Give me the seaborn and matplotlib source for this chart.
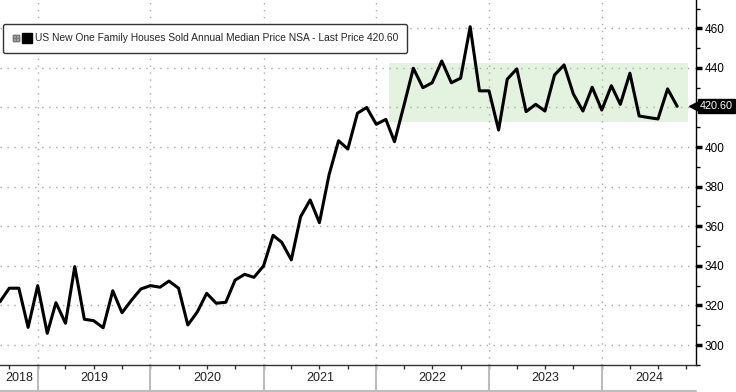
import pandas as pd
import numpy as np
import matplotlib
matplotlib.use("Agg")
import matplotlib.pyplot as plt
import matplotlib.dates as mdates
import matplotlib.transforms as mtransforms
from matplotlib.lines import Line2D
from matplotlib.legend_handler import HandlerTuple
import seaborn as sns

# --- data ($k) ---
start_month = "2018-09-01"
prices = [
    321.9, 328.7, 328.7, 308.9,                                                           # 2018 Sep-Dec
    330.0, 305.9, 321.4, 311.0, 339.6, 313.0, 312.3, 308.7, 327.4, 316.3, 322.7, 328.3,   # 2019
    330.0, 329.2, 332.3, 328.7, 310.1, 316.8, 326.1, 321.1, 321.6, 332.8, 335.7, 334.2,   # 2020
    339.9, 355.4, 351.9, 343.0, 364.8, 373.3, 361.8, 385.9, 403.2, 399.0, 417.1, 420.0,   # 2021
    411.5, 414.0, 402.7, 421.3, 439.8, 430.0, 432.5, 443.5, 432.5, 434.8, 460.8, 428.4,   # 2022
    428.4, 408.6, 434.3, 439.5, 417.9, 421.6, 418.2, 436.4, 441.5, 426.8, 418.2, 430.2,   # 2023
    418.7, 431.0, 421.6, 437.3, 415.7, 414.9, 414.2, 429.4, 420.6,                        # 2024 Jan-Sep
]
dates = pd.date_range(start_month, periods=len(prices), freq="MS")
last_price = prices[-1]

# shaded range
band_dates = [pd.Timestamp("2022-02-10"), pd.Timestamp("2024-10-05")]
band_low = 412.8
band_high = 442.3

y_ticks = [300, 320, 340, 360, 380, 400, 420, 440, 460]
years = [2018, 2019, 2020, 2021, 2022, 2023, 2024]
x_range = [pd.Timestamp("2018-09-01"), pd.Timestamp("2024-11-01")]
y_range = [289.9, 474.3]

title = "US New One Family Houses Sold Annual Median Price NSA - Last Price 420.60"

sns.set_theme(style="white")
plt.rcParams["font.family"] = ["Liberation Sans", "DejaVu Sans"]

fig = plt.figure(figsize=(7.36, 3.92), dpi=100)
ax = fig.add_axes([0.0, 27 / 392, 696 / 736, 365 / 392])

ax.fill_between(band_dates, band_low, band_high, color="#e4f3df", lw=0, zorder=0)
sns.lineplot(x=dates, y=prices, color="black", lw=2.2, ax=ax, zorder=3)

ax.set_xlim(x_range)
ax.set_ylim(y_range)
ax.set_xlabel("")
ax.set_ylabel("")

# right-hand axis
ax.yaxis.tick_right()
ax.set_yticks(y_ticks)
ax.set_yticklabels(["" if t == 420 else str(t) for t in y_ticks])
ax.yaxis.set_minor_locator(matplotlib.ticker.MultipleLocator(10))
ax.tick_params(axis="y", which="major", direction="out", length=4, width=2.5,
               colors="black", labelsize=8.5, pad=2)
ax.tick_params(axis="y", which="minor", direction="out", length=3, width=1, colors="black", right=True)

# bottom axis: quarter ticks, yearly grid
ax.xaxis.set_major_locator(mdates.YearLocator())
ax.xaxis.set_minor_locator(mdates.MonthLocator(bymonth=(1, 4, 7, 10)))
ax.xaxis.set_major_formatter(matplotlib.ticker.NullFormatter())
ax.tick_params(axis="x", which="both", direction="out", length=3, width=1, colors="#333333", bottom=True)

ax.grid(True, which="major", color="#a8a8a8", linestyle=(0, (1, 4)), lw=1)

for side in ["top", "left"]:
    ax.spines[side].set_visible(False)
ax.spines["right"].set_color("black")
ax.spines["bottom"].set_color("#333333")
ax.spines["right"].set_linewidth(1)
ax.spines["bottom"].set_linewidth(1)

# year labels centred in their visible span, with grey separators below the axis
trans = mtransforms.blended_transform_factory(ax.transData, ax.transAxes)
lo, hi = mdates.date2num(x_range[0]), mdates.date2num(x_range[1])
for yr in years:
    a = max(mdates.date2num(pd.Timestamp(f"{yr}-01-01")), lo)
    b = min(mdates.date2num(pd.Timestamp(f"{yr + 1}-01-01")), hi)
    ax.text((a + b) / 2, -0.035, str(yr), transform=trans, ha="center", va="center",
            fontsize=9, color="#222222")
    if yr > years[0]:
        ax.plot([a, a], [0, -0.072], transform=trans, color="#bdbdbd", lw=1.5, clip_on=False)
ax.plot([0, 1], [-0.072, -0.072], transform=ax.transAxes, color="#bdbdbd", lw=1.5, clip_on=False)

# last price tag on the right axis
ytrans = mtransforms.blended_transform_factory(ax.transAxes, ax.transData)
ax.plot([0.998], [last_price], marker="<", ms=9, color="black", transform=ytrans, clip_on=False, zorder=5)
ax.text(1.006, last_price, f"{last_price:.2f}", transform=ytrans, ha="left", va="center",
        color="white", fontsize=7.8, zorder=6,
        bbox=dict(boxstyle="square,pad=0.2", fc="black", ec="black"))

# legend box
icon = Line2D([], [], marker=r"$\boxplus$", color="#777777", ls="", ms=5)
square = Line2D([], [], marker="s", color="black", ls="", ms=7.5)
leg = ax.legend(handles=[(icon, square)], labels=[title], loc="upper left",
                bbox_to_anchor=(0.004, 0.934), borderaxespad=0, frameon=True, fancybox=True,
                edgecolor="#333333", framealpha=1, fontsize=7.4, handlelength=1.9,
                handletextpad=0.3, borderpad=0.9,
                handler_map={tuple: HandlerTuple(ndivide=None, pad=0.2)})
leg.get_frame().set_linewidth(1)
leg.set_zorder(10)

fig.savefig("out.png", dpi=100)
